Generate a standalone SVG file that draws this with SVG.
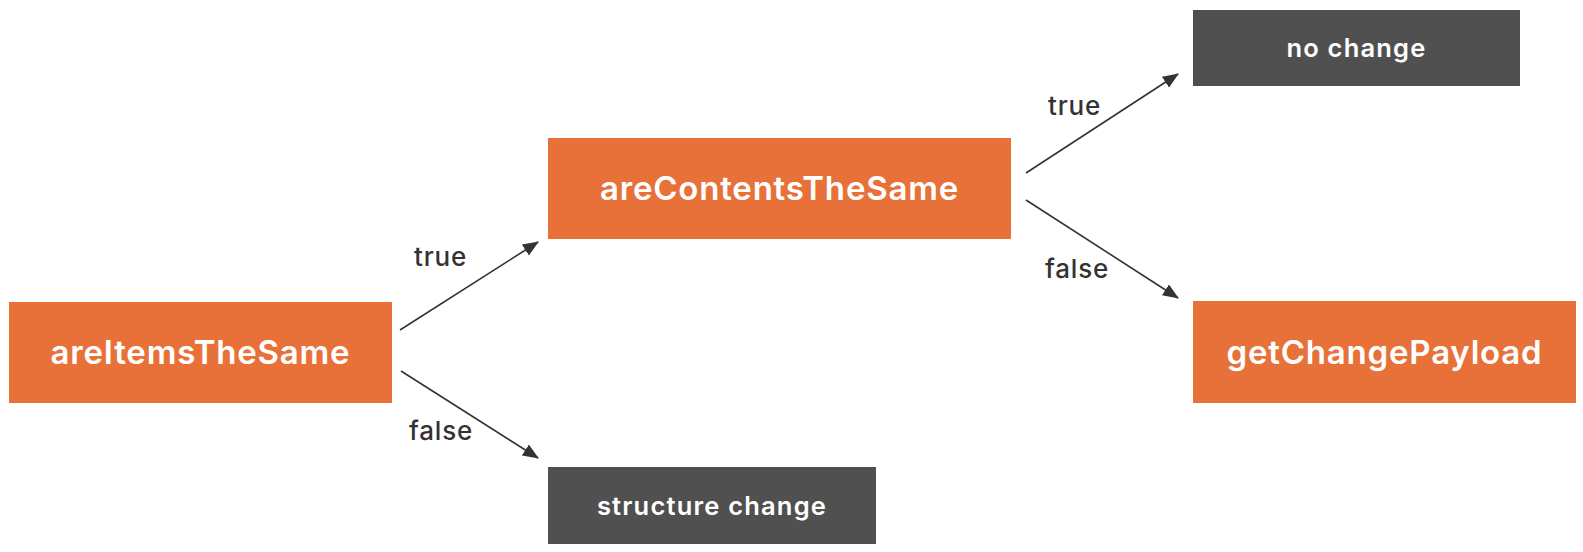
<svg xmlns="http://www.w3.org/2000/svg" width="1583" height="552" viewBox="0 0 1583 552">
<style>
.orange{fill:#E8713A}
.gray{fill:#505050}
.nt{font-family:Inter,"Liberation Sans",sans-serif;font-weight:600;fill:#ffffff;text-anchor:middle}
.big{font-size:33px;letter-spacing:0.8px}
.small{font-size:25.5px;letter-spacing:1.2px}
.lbl{font-family:Inter,"Liberation Sans",sans-serif;font-weight:500;font-size:26px;letter-spacing:0.8px;fill:#333333}
.edge{stroke:#333333;stroke-width:1.6;fill:none;marker-end:url(#arr)}
</style>
<defs>
<marker id="arr" markerWidth="16" markerHeight="13" refX="15" refY="6.5" orient="auto" markerUnits="userSpaceOnUse">
<path d="M0,0 L16,6.5 L0,13 Z" fill="#333333"/>
</marker>
</defs>
<rect width="1583" height="552" fill="#ffffff"/>
<g id="connectors">
<line class="edge" x1="400" y1="330" x2="538" y2="242"/>
<line class="edge" x1="401" y1="371" x2="538" y2="458"/>
<line class="edge" x1="1026" y1="173" x2="1178" y2="74"/>
<line class="edge" x1="1026" y1="200" x2="1178" y2="298"/>
<text class="lbl" x="414" y="266">true</text>
<text class="lbl" x="409" y="440">false</text>
<text class="lbl" x="1048" y="115">true</text>
<text class="lbl" x="1045" y="278">false</text>
</g>
<g id="areItemsTheSame">
<rect class="orange" x="9" y="302" width="383" height="101"/>
<text class="nt big" x="200.5" y="364">areItemsTheSame</text>
</g>
<g id="areContentsTheSame">
<rect class="orange" x="548" y="138" width="463" height="101"/>
<text class="nt big" x="779.5" y="200">areContentsTheSame</text>
</g>
<g id="getChangePayload">
<rect class="orange" x="1193" y="301" width="383" height="102"/>
<text class="nt big" x="1384.5" y="364">getChangePayload</text>
</g>
<g id="noChange">
<rect class="gray" x="1193" y="10" width="327" height="76"/>
<text class="nt small" x="1356.5" y="57">no change</text>
</g>
<g id="structureChange">
<rect class="gray" x="548" y="467" width="328" height="77"/>
<text class="nt small" x="712" y="515">structure change</text>
</g>
</svg>
